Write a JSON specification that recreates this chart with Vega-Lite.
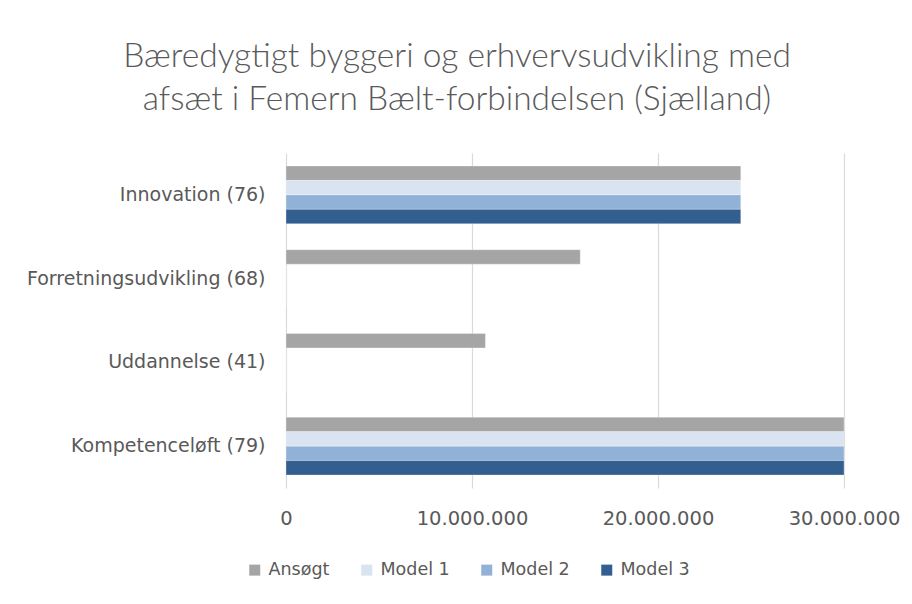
{
  "$schema": "https://vega.github.io/schema/vega-lite/v6.json",
  "width": 558,
  "height": 335,
  "autosize": {"type": "none"},
  "padding": {"left": 286, "top": 153, "right": 68, "bottom": 116},
  "background": "white",
  "title": {
    "text": ["Bæredygtigt byggeri og erhvervsudvikling med", "afsæt i Femern Bælt-forbindelsen (Sjælland)"],
    "font": "Lato",
    "fontWeight": 300,
    "fontSize": 33.5,
    "color": "#595959",
    "anchor": "middle",
    "dx": -108,
    "offset": 36,
    "lineHeight": 43
  },
  "data": {
    "values": [
      {"kategori": "Innovation (76)", "serie": "Ansøgt", "beloeb": 24450000},
      {"kategori": "Innovation (76)", "serie": "Model 1", "beloeb": 24450000},
      {"kategori": "Innovation (76)", "serie": "Model 2", "beloeb": 24450000},
      {"kategori": "Innovation (76)", "serie": "Model 3", "beloeb": 24450000},
      {"kategori": "Forretningsudvikling (68)", "serie": "Ansøgt", "beloeb": 15820000},
      {"kategori": "Forretningsudvikling (68)", "serie": "Model 1", "beloeb": 0},
      {"kategori": "Forretningsudvikling (68)", "serie": "Model 2", "beloeb": 0},
      {"kategori": "Forretningsudvikling (68)", "serie": "Model 3", "beloeb": 0},
      {"kategori": "Uddannelse (41)", "serie": "Ansøgt", "beloeb": 10720000},
      {"kategori": "Uddannelse (41)", "serie": "Model 1", "beloeb": 0},
      {"kategori": "Uddannelse (41)", "serie": "Model 2", "beloeb": 0},
      {"kategori": "Uddannelse (41)", "serie": "Model 3", "beloeb": 0},
      {"kategori": "Kompetenceløft (79)", "serie": "Ansøgt", "beloeb": 30000000},
      {"kategori": "Kompetenceløft (79)", "serie": "Model 1", "beloeb": 30000000},
      {"kategori": "Kompetenceløft (79)", "serie": "Model 2", "beloeb": 30000000},
      {"kategori": "Kompetenceløft (79)", "serie": "Model 3", "beloeb": 30000000}
    ]
  },
  "mark": {"type": "bar", "stroke": "white", "strokeWidth": 0.5, "strokeOpacity": 0.6},
  "encoding": {
    "y": {
      "field": "kategori",
      "type": "nominal",
      "sort": ["Innovation (76)", "Forretningsudvikling (68)", "Uddannelse (41)", "Kompetenceløft (79)"],
      "scale": {"paddingInner": 0.31, "paddingOuter": 0.155},
      "axis": {
        "title": null,
        "ticks": false,
        "domain": false,
        "labelFont": "DejaVu Sans",
        "labelFontSize": 19,
        "labelColor": "#595959",
        "labelPadding": 21,
        "labelLimit": 300
      }
    },
    "yOffset": {
      "field": "serie",
      "type": "nominal",
      "sort": ["Ansøgt", "Model 1", "Model 2", "Model 3"]
    },
    "x": {
      "field": "beloeb",
      "type": "quantitative",
      "scale": {"domain": [0, 30000000], "nice": false},
      "axis": {
        "title": null,
        "values": [0, 10000000, 20000000, 30000000],
        "labelExpr": "replace(format(datum.value, ','), regexp(',', 'g'), '.')",
        "labelFlush": false,
        "labelOverlap": false,
        "domain": false,
        "ticks": false,
        "grid": true,
        "gridColor": "#D9D9D9",
        "gridWidth": 1.2,
        "labelFont": "DejaVu Sans",
        "labelFontSize": 19.5,
        "labelColor": "#595959",
        "labelPadding": 21
      }
    },
    "color": {
      "field": "serie",
      "type": "nominal",
      "sort": ["Ansøgt", "Model 1", "Model 2", "Model 3"],
      "scale": {
        "domain": ["Ansøgt", "Model 1", "Model 2", "Model 3"],
        "range": ["#A5A5A5", "#DAE3F0", "#92B1D6", "#335E90"]
      },
      "legend": {
        "title": null,
        "orient": "none",
        "direction": "horizontal",
        "legendX": -40,
        "legendY": 408,
        "symbolType": "square",
        "symbolSize": 121,
        "symbolStrokeWidth": 0,
        "labelFont": "DejaVu Sans",
        "labelFontSize": 17.5,
        "labelColor": "#595959",
        "columnPadding": 28,
        "labelOffset": 5
      }
    }
  },
  "config": {
    "view": {"stroke": null}
  }
}
